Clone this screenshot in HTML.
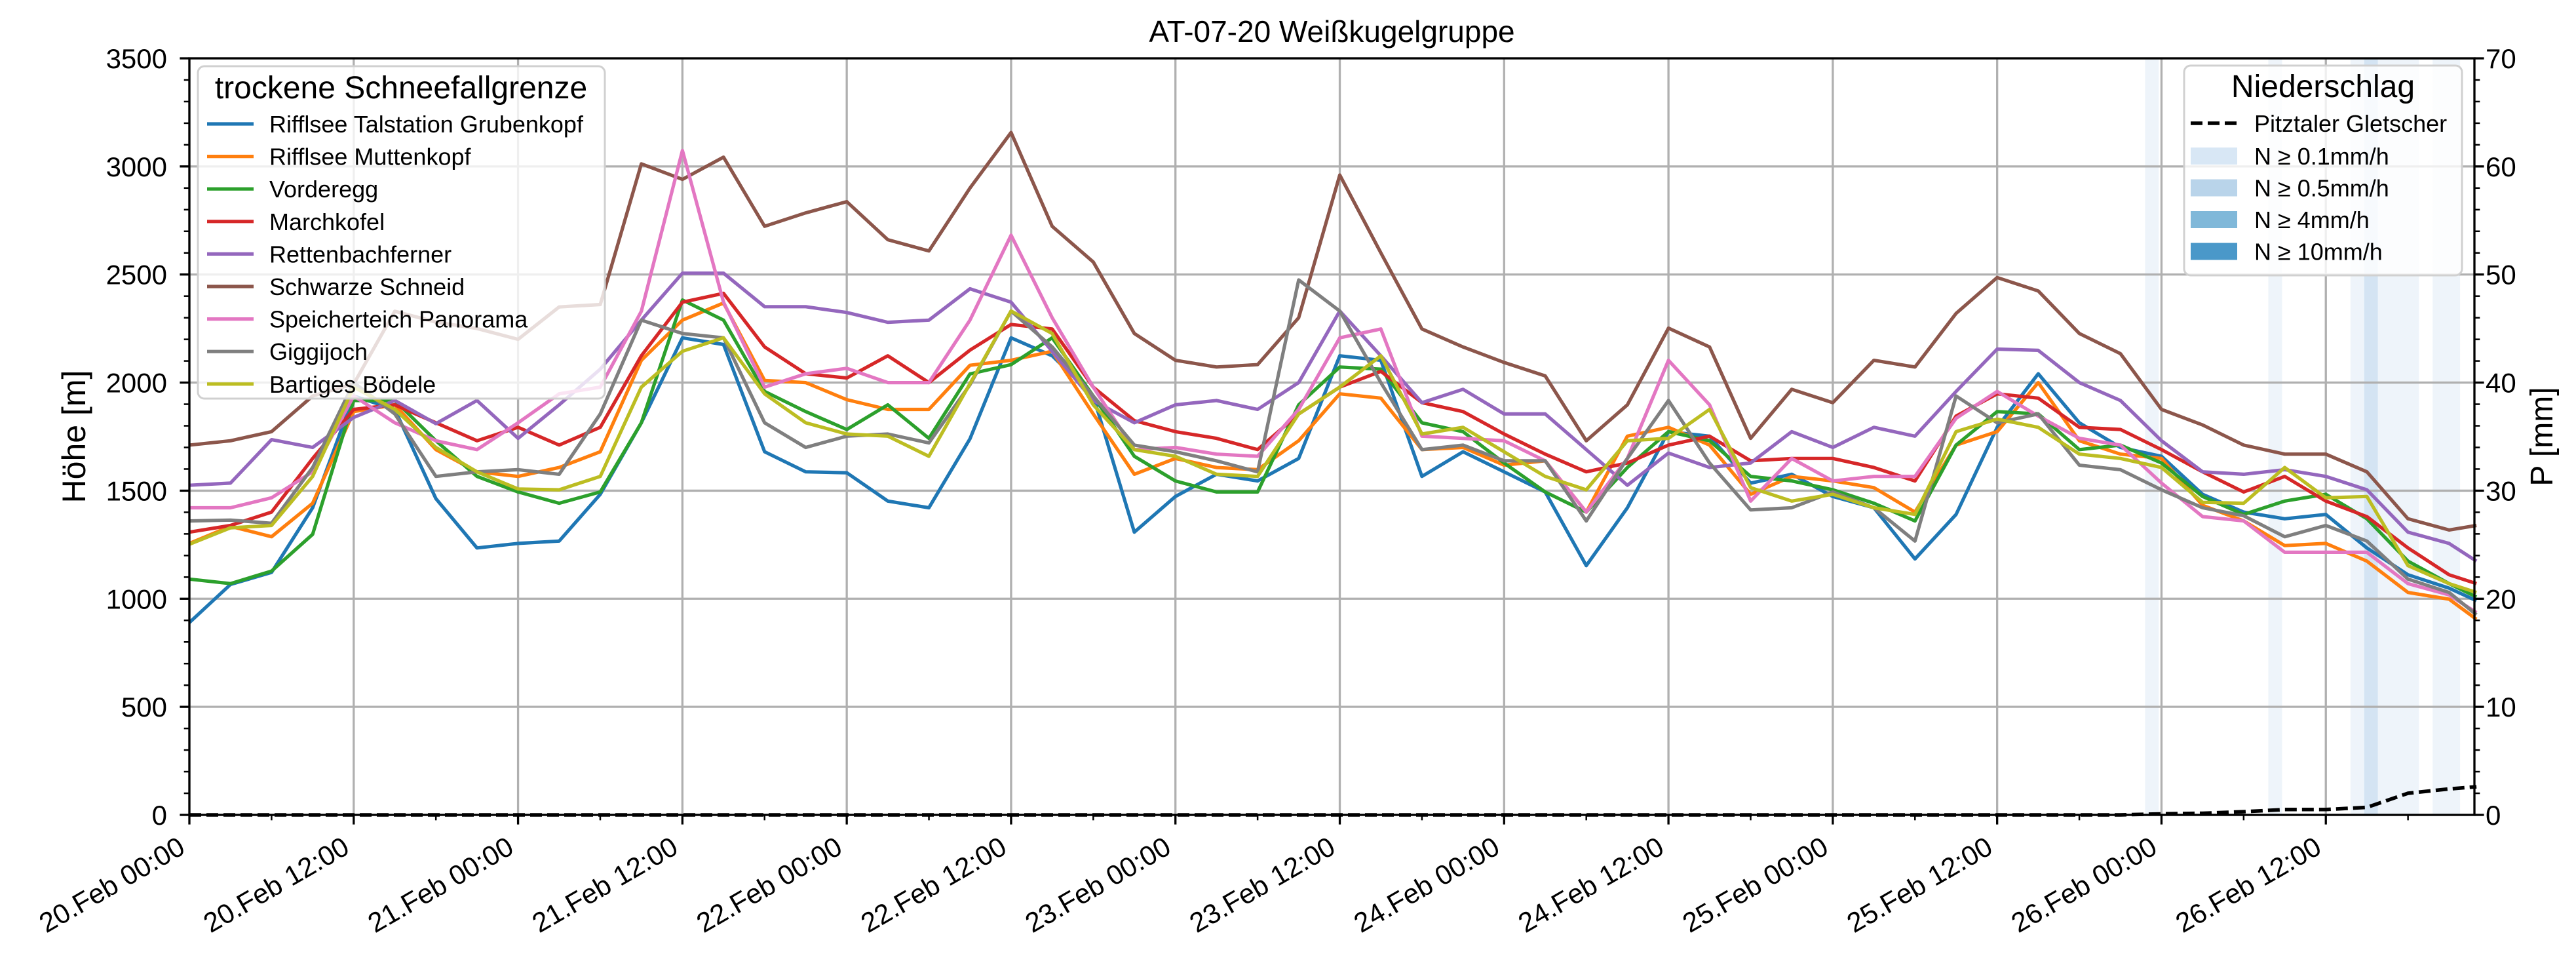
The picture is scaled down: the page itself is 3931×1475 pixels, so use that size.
<!DOCTYPE html>
<html><head><meta charset="utf-8"><style>
html,body{margin:0;padding:0;background:#fff;}
svg{display:block;font-family:"Liberation Sans","DejaVu Sans",sans-serif;}
</style></head><body>
<svg id="chart" width="3931" height="1475" viewBox="0 0 3931 1475" xmlns="http://www.w3.org/2000/svg">
<rect x="0" y="0" width="3931" height="1475" fill="#fff"/>
<g id="spans"></g><g id="grid"></g><g id="series"></g><g id="axes"></g><g id="legends"></g>
</svg>
<script>
const hours=[0,3,6,9,12,15,18,21,24,27,30,33,36,39,42,45,48,51,54,57,60,63,66,69,72,75,78,81,84,87,90,93,96,99,102,105,108,111,114,117,120,123,126,129,132,135,138,141,144,147,150,153,156,159,162,165,167];
const seriesNames=["Rifflsee Talstation Grubenkopf","Rifflsee Muttenkopf","Vorderegg","Marchkofel","Rettenbachferner","Schwarze Schneid","Speicherteich Panorama","Giggijoch","Bartiges Bödele"];
const seriesColors=["#1f77b4","#ff7f0e","#2ca02c","#d62728","#9467bd","#8c564b","#e377c2","#7f7f7f","#bcbd22"];
const sBlue=[890,1066,1122,1421,1938,1876,1463,1235,1256,1267,1483,1814,2207,2176,1680,1587,1583,1452,1421,1740,2207,2124,1938,1308,1473,1576,1545,1649,2124,2103,1566,1680,1587,1494,1153,1421,1773,1752,1535,1576,1473,1421,1184,1390,1793,2041,1814,1700,1659,1483,1401,1370,1390,1235,1111,1049,991];
const sOrange=[1256,1335,1287,1442,1866,1897,1690,1587,1566,1607,1680,2103,2289,2368,2010,2000,1921,1876,1876,2080,2103,2145,1855,1576,1649,1607,1597,1731,1948,1928,1690,1700,1618,1638,1401,1752,1793,1711,1483,1566,1545,1514,1401,1711,1773,2000,1731,1669,1649,1432,1360,1246,1256,1174,1029,998,905];
const sGreen=[1091,1070,1128,1298,1917,1917,1731,1566,1494,1442,1494,1814,2382,2289,1959,1866,1783,1897,1742,2040,2083,2207,1938,1659,1545,1494,1494,1897,2072,2062,1814,1773,1628,1494,1401,1607,1773,1731,1566,1545,1504,1442,1360,1711,1866,1855,1690,1711,1628,1473,1390,1452,1483,1370,1174,1070,1008];
const sRed=[1308,1339,1401,1649,1876,1897,1814,1731,1793,1711,1793,2124,2372,2413,2165,2041,2021,2124,2000,2150,2269,2248,1979,1824,1773,1742,1690,1855,1979,2052,1907,1866,1762,1669,1587,1628,1711,1752,1638,1649,1649,1607,1545,1845,1948,1928,1793,1783,1690,1587,1494,1566,1452,1380,1235,1111,1070];
const sPurple=[1525,1535,1736,1700,1839,1917,1810,1917,1742,1897,2062,2289,2506,2506,2351,2351,2324,2279,2289,2434,2372,2145,1917,1814,1897,1917,1876,2000,2331,2124,1907,1969,1855,1855,1690,1525,1674,1607,1628,1773,1700,1793,1752,1959,2155,2149,2000,1917,1731,1587,1576,1597,1566,1504,1308,1256,1174];
const sBrown=[1711,1731,1773,1938,1994,2330,2280,2250,2200,2350,2361,3012,2940,3043,2723,2785,2837,2661,2609,2900,3157,2723,2558,2227,2103,2072,2083,2300,2960,2600,2248,2165,2093,2031,1731,1897,2252,2165,1742,1969,1907,2103,2072,2320,2486,2424,2227,2134,1876,1804,1711,1669,1669,1587,1370,1318,1339];
const sPink=[1421,1421,1467,1587,1938,1814,1731,1690,1814,1948,1979,2330,3074,2372,1979,2041,2066,2000,2000,2289,2682,2300,1979,1690,1700,1669,1659,1876,2207,2248,1752,1742,1731,1638,1401,1649,2103,1897,1452,1649,1545,1566,1566,1835,1959,1845,1742,1711,1535,1380,1360,1215,1215,1215,1070,1018,936];
const sGray=[1360,1364,1349,1607,2000,1855,1566,1587,1597,1576,1855,2289,2227,2207,1814,1700,1752,1762,1721,1990,2331,2165,1938,1711,1680,1638,1587,2475,2331,2000,1690,1711,1638,1638,1360,1649,1917,1628,1411,1421,1494,1421,1267,1938,1814,1855,1618,1597,1504,1421,1384,1287,1339,1267,1091,1029,926];
const sOlive=[1252,1328,1339,1566,1979,1876,1700,1587,1508,1504,1566,1979,2145,2207,1948,1814,1762,1752,1659,1995,2331,2227,1897,1690,1659,1576,1566,1855,1979,2124,1762,1793,1680,1566,1504,1731,1742,1876,1514,1452,1483,1421,1390,1773,1831,1793,1669,1649,1607,1446,1442,1607,1467,1473,1153,1070,1029];
const precip=[0,0,0,0,0,0,0,0,0,0,0,0,0,0,0,0,0,0,0,0,0,0,0,0,0,0,0,0,0,0,0,0,0,0,0,0,0,0,0,0,0,0,0,0,0,0,0,0,0.1,0.15,0.3,0.5,0.5,0.7,2.0,2.4,2.6];
const spanStart=[142.8,151.8,157.8,158.8,159.8,163.8];
const spanEnd=[143.8,152.8,158.8,159.8,162.8,165.8];
const spanLevel=[0,0,0,1,0,0];
const xTickHours=[0,12,24,36,48,60,72,84,96,108,120,132,144,156];
const xTickLabels=["20.Feb 00:00","20.Feb 12:00","21.Feb 00:00","21.Feb 12:00","22.Feb 00:00","22.Feb 12:00","23.Feb 00:00","23.Feb 12:00","24.Feb 00:00","24.Feb 12:00","25.Feb 00:00","25.Feb 12:00","26.Feb 00:00","26.Feb 12:00"];
const yTicks=[0,500,1000,1500,2000,2500,3000,3500];
const pTicks=[0,10,20,30,40,50,60,70];

const L=289,R=3776,T=89,B=1243,XMAX=166.85,YMAX=3500,PMAX=70;
const xs=h=>L+h/XMAX*(R-L);
const ys=v=>B-v/YMAX*(B-T);
const yp=p=>B-p/PMAX*(B-T);
const NS="http://www.w3.org/2000/svg";
function mk(tag,attrs,parent){const e=document.createElementNS(NS,tag);for(const k in attrs)e.setAttribute(k,attrs[k]);parent.appendChild(e);return e;}
const gSpans=document.getElementById('spans'),gGrid=document.getElementById('grid'),gSer=document.getElementById('series'),gAx=document.getElementById('axes'),gLeg=document.getElementById('legends');
const spanFill=["rgba(198,219,239,0.3)","rgba(198,219,239,0.75)"];
spanStart.forEach((s,i)=>{const r=mk('rect',{x:xs(s),y:T,width:xs(spanEnd[i])-xs(s),height:B-T,fill:spanFill[spanLevel[i]]},gSpans);

});
xTickHours.forEach(h=>{const l=mk('line',{x1:xs(h),x2:xs(h),y1:T,y2:B,stroke:'#b0b0b0','stroke-width':3.3},gGrid);

});
yTicks.forEach(v=>{const l=mk('line',{x1:L,x2:R,y1:ys(v),y2:ys(v),stroke:'#b0b0b0','stroke-width':3.3},gGrid);

});
const allSeries=[sBlue,sOrange,sGreen,sRed,sPurple,sBrown,sPink,sGray,sOlive];
allSeries.forEach((arr,i)=>{const pts=arr.map((v,j)=>xs(hours[j]).toFixed(1)+','+ys(v).toFixed(1)).join(' ');
const p=mk('polyline',{points:pts,fill:'none',stroke:seriesColors[i],'stroke-width':5.2,'stroke-linejoin':'round'},gSer);

});
const pl=mk('polyline',{points:precip.map((p,j)=>xs(hours[j]).toFixed(1)+','+yp(p).toFixed(1)).join(' '),fill:'none',stroke:'#000','stroke-width':5.5,'stroke-dasharray':'18 8'},gSer);


const fr=mk('rect',{x:L,y:T,width:R-L,height:B-T,fill:'none',stroke:'#000','stroke-width':3.3},gAx);


for(let v=0;v<=YMAX;v+=100){const major=v%500===0;const l=mk('line',{x1:L,x2:L-(major?14.6:8.3),y1:ys(v),y2:ys(v),stroke:'#000','stroke-width':major?3.3:2.5},gAx);

}
yTicks.forEach(v=>{const t=mk('text',{x:255,y:ys(v)+15,'text-anchor':'end','font-size':42},gAx);t.textContent=v;

});
for(let p=0;p<=PMAX;p+=2){const major=p%10===0;const l=mk('line',{x1:R,x2:R+(major?14.6:8.3),y1:yp(p),y2:yp(p),stroke:'#000','stroke-width':major?3.3:2.5},gAx);

}
pTicks.forEach(p=>{const t=mk('text',{x:3793,y:yp(p)+15,'font-size':42},gAx);t.textContent=p;

});
for(let h=0;h<=XMAX;h+=6){const major=h%12===0;const l=mk('line',{x1:xs(h),x2:xs(h),y1:B,y2:B+(major?14.6:8.3),stroke:'#000','stroke-width':major?3.3:2.5},gAx);

}
xTickHours.forEach((h,i)=>{const x=xs(h)-4,y=1300;const t=mk('text',{x:x,y:y,'text-anchor':'end','font-size':42,transform:`rotate(-30 ${x} ${y})`},gAx);t.textContent=xTickLabels[i];

});
const title=mk('text',{x:(L+R)/2,y:64,'text-anchor':'middle','font-size':46},gAx);title.textContent='AT-07-20 Weißkugelgruppe';


const yl=mk('text',{x:130,y:(T+B)/2,'text-anchor':'middle','font-size':50,transform:`rotate(-90 130 ${(T+B)/2})`},gAx);yl.textContent='Höhe [m]';


const pl2=mk('text',{x:3895,y:(T+B)/2,'text-anchor':'middle','font-size':48,transform:`rotate(-90 3895 ${(T+B)/2})`},gAx);pl2.textContent='P [mm]';


// left legend
const lb=mk('rect',{x:302,y:101,width:621,height:507,rx:10,fill:'rgba(255,255,255,0.8)',stroke:'#d0d0d0','stroke-width':3},gLeg);


const lt=mk('text',{x:612,y:150,'text-anchor':'middle','font-size':48},gLeg);lt.textContent='trockene Schneefallgrenze';


seriesNames.forEach((n,i)=>{const cy=189+i*49.6;
const l=mk('line',{x1:316,x2:387,y1:cy,y2:cy,stroke:seriesColors[i],'stroke-width':5.2},gLeg);


const t=mk('text',{x:411,y:cy+13,'font-size':36},gLeg);t.textContent=n;

});
// right legend
const rb=mk('rect',{x:3333,y:100,width:424,height:320,rx:10,fill:'rgba(255,255,255,0.8)',stroke:'#d0d0d0','stroke-width':3},gLeg);


const rt=mk('text',{x:3545,y:148,'text-anchor':'middle','font-size':48},gLeg);rt.textContent='Niederschlag';


const dl=mk('line',{x1:3343,x2:3414,y1:188,y2:188,stroke:'#000','stroke-width':5.5,'stroke-dasharray':'18 8'},gLeg);


const dt=mk('text',{x:3440,y:201,'font-size':36},gLeg);dt.textContent='Pitztaler Gletscher';


const pLabels=["N ≥ 0.1mm/h","N ≥ 0.5mm/h","N ≥ 4mm/h","N ≥ 10mm/h"];
const pCols=["#d8e7f5","#b9d4ea","#80b8d9","#4a98c9"];
pLabels.forEach((n,i)=>{const cy=238+i*48.5;
const r=mk('rect',{x:3343,y:cy-13,width:71,height:26,fill:pCols[i]},gLeg);


const t=mk('text',{x:3440,y:cy+13,'font-size':36},gLeg);t.textContent=n;

});
</script>
</body></html>
